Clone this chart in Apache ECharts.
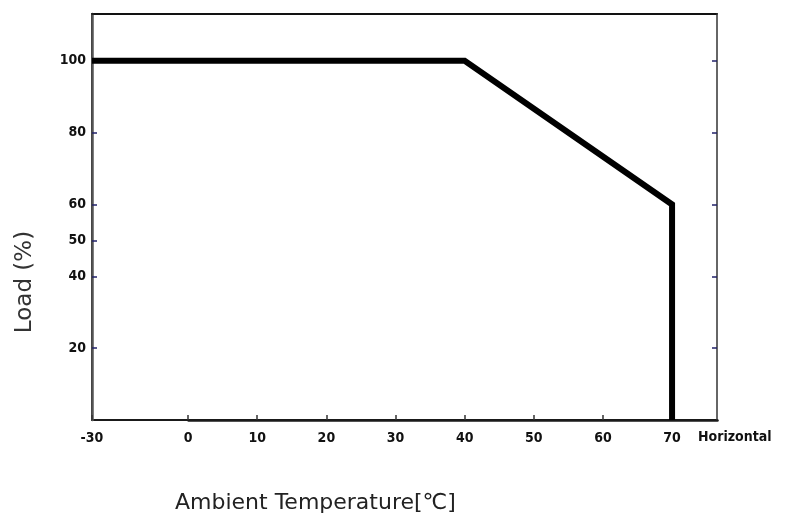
<!DOCTYPE html>
<html>
<head>
<meta charset="utf-8">
<script src="https://cdn.jsdelivr.net/npm/echarts@6/dist/echarts.min.js"></script>
<style>html,body{margin:0;padding:0;background:#fff;}#c{width:787px;height:521px;}</style>
</head>
<body>
<div id="c"></div>
<script>
// Derating curve: ambient temperature (°C) vs load (%)
var temperatures = [-30, 40, 70, 70];
var loads = [100, 100, 60, 0];
var yTickValues = [20, 40, 50, 60, 80, 100];
var yRightTickValues = [20, 40, 60, 80, 100];
var xAxisTitle = 'Ambient Temperature[\u2103]';
var yAxisTitle = 'Load (%)';
var extraLabel = 'Horizontal';

var points = temperatures.map(function (t, i) { return [t, loads[i]]; });
var labelFont = {fontFamily: 'DejaVu Sans Condensed, DejaVu Sans, sans-serif', fontWeight: 'bold', fontSize: 14, color: '#111'};

var chart = echarts.init(document.getElementById('c'), null, {renderer: 'canvas'});
chart.setOption({
  animation: false,
  backgroundColor: '#fff',
  grid: {left: 92, right: 70, top: 14, bottom: 101, show: true, borderColor: '#1a1a1a', borderWidth: 2, backgroundColor: 'transparent'},
  xAxis: [{
    type: 'value', min: -30, max: 76.5, interval: 10,
    breaks: [{start: -30, end: 0, gap: 13.9}],
    breakArea: {show: false},
    axisLine: {show: true, onZero: false, lineStyle: {color: '#1a1a1a', width: 2.5}},
    axisTick: {show: true, inside: true, length: 5, lineStyle: {color: '#333', width: 1.5}},
    axisLabel: Object.assign({margin: 11, showMaxLabel: false}, labelFont),
    splitLine: {show: false}
  }, {
    type: 'value', position: 'top', min: -30, max: 76.5,
    axisLine: {show: true, onZero: false, lineStyle: {color: '#111', width: 1.5}},
    axisTick: {show: false}, axisLabel: {show: false}, splitLine: {show: false}
  }],
  yAxis: [{
    type: 'value', min: 0, max: 113, position: 'left',
    axisLine: {show: true, onZero: false, lineStyle: {color: '#555', width: 2.5}},
    axisTick: {show: true, inside: true, length: 5, customValues: yTickValues, lineStyle: {color: '#22226a', width: 1.5}},
    axisLabel: Object.assign({margin: 6, customValues: yTickValues}, labelFont),
    splitLine: {show: false}
  }, {
    type: 'value', position: 'right', min: 0, max: 113,
    axisLine: {show: true, onZero: false, lineStyle: {color: '#666', width: 2}},
    axisTick: {show: true, inside: true, length: 5, customValues: yRightTickValues, lineStyle: {color: '#22226a', width: 1.5}},
    axisLabel: {show: false}, splitLine: {show: false}
  }],
  series: [{
    type: 'line', xAxisIndex: 0, yAxisIndex: 0,
    data: points, showSymbol: false, symbol: 'none',
    lineStyle: {color: '#000', width: 6, join: 'miter', cap: 'butt'},
    z: 3
  }],
  graphic: [{
    type: 'text', left: 175, top: 492,
    style: {text: xAxisTitle, fontFamily: 'DejaVu Sans, sans-serif', fontSize: 22, fill: '#222'}
  }, {
    type: 'text', x: 25, y: 282, rotation: Math.PI / 2,
    style: {text: yAxisTitle, fontFamily: 'DejaVu Sans, sans-serif', fontSize: 23, fill: '#333', align: 'center', verticalAlign: 'middle'}
  }, {
    type: 'text', left: 698, top: 430,
    style: {text: extraLabel, fontFamily: 'DejaVu Sans Condensed, DejaVu Sans, sans-serif', fontWeight: 'bold', fontSize: 14, fill: '#111'}
  }]
});
</script>
</body>
</html>
